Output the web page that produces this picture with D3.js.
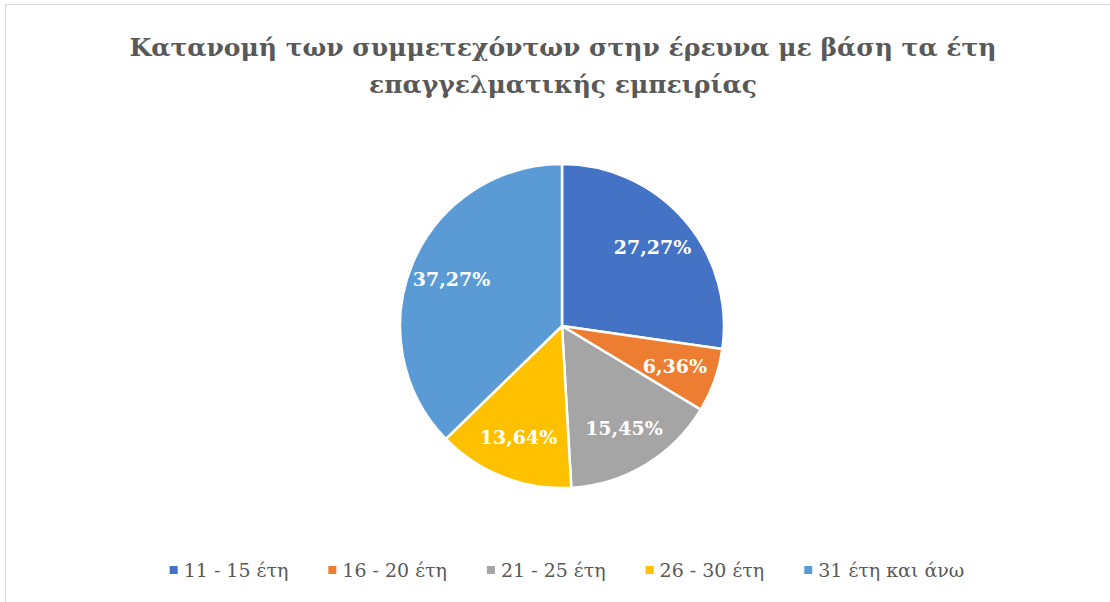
<!DOCTYPE html>
<html>
<head>
<meta charset="utf-8">
<script src="https://cdn.jsdelivr.net/npm/d3@7"></script>
<style>
  body { margin: 0; background: #fff; }
  svg { display: block; }
</style>
</head>
<body>
<div id="target"></div>
<script>
const categories = ["11 - 15 έτη", "16 - 20 έτη", "21 - 25 έτη", "26 - 30 έτη", "31 έτη και άνω"];
const values = [27.27, 6.36, 15.45, 13.64, 37.27];
const colors = ["#4472C4", "#ED7D31", "#A5A5A5", "#FFC000", "#5B9BD5"];
const titleLines = ["Κατανομή των συμμετεχόντων στην έρευνα με βάση τα έτη", "επαγγελματικής εμπειρίας"];

function drawPie() {
  const width = 1110,
    height = 602,
    cx = 562,
    cy = 326,
    radius = 162,
    serif = "'Palatino Linotype', 'Book Antiqua', Palatino, 'DejaVu Serif', serif";

  const svg = d3.select("#target")
    .append("svg")
    .attr("width", width)
    .attr("height", height);

  // chart frame (only top and left edges are visible in the crop)
  svg.append("rect")
    .attr("x", 5.5)
    .attr("y", 4.5)
    .attr("width", width + 20)
    .attr("height", height + 20)
    .attr("fill", "#fff")
    .attr("stroke", "#d9d9d9");

  svg.append("g")
    .selectAll("text")
    .data(titleLines)
    .enter()
    .append("text")
    .attr("x", cx + 1)
    .attr("y", (d, i) => 56 + i * 37)
    .attr("text-anchor", "middle")
    .style("font-family", serif)
    .style("font-weight", "bold")
    .style("font-size", "25px")
    .style("fill", "#595959")
    .text((d) => d);

  const pie = d3.pie()
    .sort(null)
    .value((d) => d);

  const arc = d3.arc()
    .innerRadius(0)
    .outerRadius(radius);

  const labelArc = d3.arc()
    .innerRadius(radius * 0.74)
    .outerRadius(radius * 0.74);

  const g = svg.append("g")
    .attr("transform", `translate(${cx},${cy})`);

  const slices = g.selectAll(".slice")
    .data(pie(values))
    .enter()
    .append("g")
    .attr("class", "slice");

  slices.append("path")
    .attr("d", arc)
    .style("fill", (d) => colors[d.index])
    .style("stroke", "#fff")
    .style("stroke-width", 2.5);

  slices.append("text")
    .attr("transform", (d) => {
      const c = labelArc.centroid(d);
      return `translate(${c[0]},${c[1]})`;
    })
    .attr("text-anchor", "middle")
    .attr("dy", "0.35em")
    .style("font-family", serif)
    .style("font-weight", "bold")
    .style("font-size", "19px")
    .style("fill", "#fff")
    .text((d) => d3.format(".2f")(d.data).replace(".", ",") + "%");

  // legend
  const legend = svg.append("g")
    .attr("transform", "translate(0,570)");

  const items = legend.selectAll(".item")
    .data(categories)
    .enter()
    .append("g")
    .attr("class", "item");

  items.append("rect")
    .attr("y", -4)
    .attr("width", 8)
    .attr("height", 8)
    .style("fill", (d, i) => colors[i]);

  items.append("text")
    .attr("x", 14)
    .attr("dy", "0.35em")
    .style("font-family", serif)
    .style("font-size", "19px")
    .style("fill", "#595959")
    .text((d) => d);

  const gap = 40;
  const widths = [];
  items.select("text").each(function() { widths.push(14 + this.getComputedTextLength()); });
  const total = d3.sum(widths) + gap * (widths.length - 1);
  let x = 567 - total / 2;
  items.attr("transform", (d, i) => {
    const t = `translate(${x},0)`;
    x += widths[i] + gap;
    return t;
  });
}

drawPie();
</script>
</body>
</html>
